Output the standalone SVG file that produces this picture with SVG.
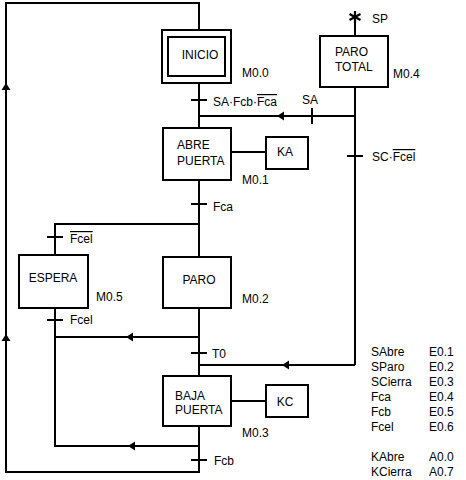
<svg xmlns="http://www.w3.org/2000/svg" width="466" height="480" viewBox="0 0 466 480">
<style>
text{font-family:"Liberation Sans",Arial,sans-serif;font-size:12px;fill:#000}
.ln{stroke:#000;stroke-width:2;fill:none}
.bx{stroke:#000;stroke-width:2;fill:#fff}
.ar{fill:#000;stroke:none}
.ov{text-decoration:overline}
.m{text-anchor:middle}
</style>
<rect width="466" height="480" fill="#fff"/>
<g id="connectors">
<polyline class="ln" points="199,30 199,3 6,3 6,472 199,472 199,426"/>
<line class="ln" x1="199" y1="83" x2="199" y2="128"/>
<line class="ln" x1="199" y1="180" x2="199" y2="257"/>
<line class="ln" x1="199" y1="308" x2="199" y2="376"/>
<line class="ln" x1="199" y1="116" x2="355" y2="116"/>
<line class="ln" x1="355" y1="87" x2="355" y2="365"/>
<line class="ln" x1="355" y1="12" x2="355" y2="36"/>
<line class="ln" x1="199" y1="365" x2="355" y2="365"/>
<polyline class="ln" points="199,224 55,224 55,255"/>
<polyline class="ln" points="55,308 55,446 199,446"/>
<line class="ln" x1="55" y1="337" x2="199" y2="337"/>
<line class="ln" x1="231" y1="152" x2="266" y2="152"/>
<line class="ln" x1="231" y1="401" x2="266" y2="401"/>
<line class="ln" x1="191" y1="100" x2="207" y2="100"/>
<line class="ln" x1="191" y1="204" x2="207" y2="204"/>
<line class="ln" x1="191" y1="353" x2="207" y2="353"/>
<line class="ln" x1="191" y1="460" x2="207" y2="460"/>
<line class="ln" x1="47" y1="237" x2="63" y2="237"/>
<line class="ln" x1="47" y1="320" x2="63" y2="320"/>
<line class="ln" x1="347" y1="156" x2="363" y2="156"/>
<line class="ln" x1="312" y1="108" x2="312" y2="124"/>
<polygon class="ar" points="277,116 284,111.5 284,120.5"/>
<polygon class="ar" points="282,365 289,360.5 289,369.5"/>
<polygon class="ar" points="126,337 133,332.5 133,341.5"/>
<polygon class="ar" points="128,446 135,441.5 135,450.5"/>
<polygon class="ar" points="6,83 1.5,90 10.5,90"/>
<polygon class="ar" points="6,334 1.5,341 10.5,341"/>
<g stroke="#000" stroke-width="2.2">
<line x1="355" y1="11" x2="355" y2="23"/>
<line x1="349.5" y1="14" x2="360.5" y2="20"/>
<line x1="349.5" y1="20" x2="360.5" y2="14"/>
</g>
</g>
<g id="inicio">
<rect class="bx" x="162" y="30" width="69" height="53"/>
<rect class="bx" x="168" y="37" width="57" height="39"/>
<text x="200" y="59" class="m">INICIO</text>
<text x="242" y="77">M0.0</text>
</g>
<g id="abre">
<rect class="bx" x="163" y="128" width="68" height="52"/>
<text x="177" y="149">ABRE</text>
<text x="177" y="165">PUERTA</text>
<text x="242" y="184">M0.1</text>
</g>
<g id="ka">
<rect class="bx" x="266" y="137" width="42" height="32"/>
<text x="285" y="156" class="m">KA</text>
</g>
<g id="paro">
<rect class="bx" x="163" y="257" width="68" height="51"/>
<text x="199" y="284" class="m">PARO</text>
<text x="242" y="303">M0.2</text>
</g>
<g id="espera">
<rect class="bx" x="19" y="255" width="69" height="53"/>
<text x="53" y="282" class="m">ESPERA</text>
<text x="96" y="301">M0.5</text>
</g>
<g id="baja">
<rect class="bx" x="163" y="376" width="68" height="50"/>
<text x="175" y="400">BAJA</text>
<text x="175" y="414">PUERTA</text>
<text x="242" y="437">M0.3</text>
</g>
<g id="kc">
<rect class="bx" x="266" y="385" width="42" height="32"/>
<text x="285" y="406" class="m">KC</text>
</g>
<g id="parototal">
<rect class="bx" x="320" y="36" width="68" height="51"/>
<text x="335" y="56">PARO</text>
<text x="335" y="71">TOTAL</text>
<text x="393" y="78">M0.4</text>
</g>
<g id="labels">
<text x="372" y="23">SP</text>
<text x="213" y="106">SA·Fcb·<tspan class="ov">Fca</tspan></text>
<text x="302" y="104">SA</text>
<text x="372" y="161">SC·<tspan class="ov">Fcel</tspan></text>
<text x="213" y="211">Fca</text>
<text x="70" y="243"><tspan class="ov">Fcel</tspan></text>
<text x="70" y="324">Fcel</text>
<text x="212" y="358">T0</text>
<text x="214" y="465">Fcb</text>
</g>
<g id="table">
<text x="371" y="356">SAbre</text><text x="429" y="356">E0.1</text>
<text x="371" y="371">SParo</text><text x="429" y="371">E0.2</text>
<text x="371" y="386">SCierra</text><text x="429" y="386">E0.3</text>
<text x="371" y="401">Fca</text><text x="429" y="401">E0.4</text>
<text x="371" y="416">Fcb</text><text x="429" y="416">E0.5</text>
<text x="371" y="431">Fcel</text><text x="429" y="431">E0.6</text>
<text x="371" y="461">KAbre</text><text x="429" y="461">A0.0</text>
<text x="371" y="476">KCierra</text><text x="429" y="476">A0.7</text>
</g>
</svg>
